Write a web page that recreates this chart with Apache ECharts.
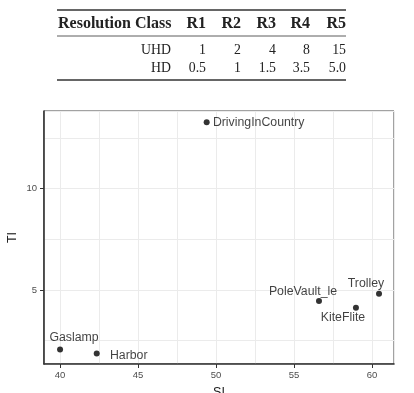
<!DOCTYPE html>
<html>
<head>
<meta charset="utf-8">
<script src="https://cdn.jsdelivr.net/npm/echarts@6/dist/echarts.min.js"></script>
<style>
html,body{margin:0;padding:0;background:#fff;}
#c{width:414px;height:393px;}
</style>
</head>
<body>
<div id="c"></div>
<script>
// Table data
var tableHeader = ["Resolution Class", "R1", "R2", "R3", "R4", "R5"];
var uhdRow = ["UHD", "1", "2", "4", "8", "15"];
var hdRow = ["HD", "0.5", "1", "1.5", "3.5", "5.0"];

// Scatter data
var names = ["DrivingInCountry", "Gaslamp", "Harbor", "PoleVault_le", "KiteFlite", "Trolley"];
var siValues = [49.4, 40.0, 42.35, 56.6, 58.97, 60.45];
var tiValues = [13.28, 2.07, 1.87, 4.46, 4.13, 4.82];

// label offsets (styling, px)
var labelOffsets = [[52, 0], [14, -12], [32, 2], [-16, -9], [-13, 10], [-13, -10]];

var colRight = [171, 206, 241, 276, 310, 346];
var rowY = [24, 50, 68];
var serif = '"Liberation Serif", "DejaVu Serif", serif';

var graphics = [];
function rule(y, w) {
  graphics.push({type: 'line', shape: {x1: 57, y1: y, x2: 346, y2: y}, style: {stroke: '#333', lineWidth: w}});
}
rule(10, 1.3); rule(36, 0.8); rule(80, 1.3);
[tableHeader, uhdRow, hdRow].forEach(function (row, ri) {
  row.forEach(function (t, ci) {
    graphics.push({
      type: 'text',
      x: (ri === 0 && ci === 0) ? 58 : colRight[ci],
      y: rowY[ri],
      style: {
        text: t,
        fill: '#222',
        font: (ri === 0 ? 'bold 16px ' : '13.8px ') + serif,
        textAlign: (ri === 0 && ci === 0) ? 'left' : 'right',
        textVerticalAlign: 'middle'
      }
    });
  });
});

var pts = names.map(function (n, i) {
  return {name: n, value: [siValues[i], tiValues[i]]};
});

var chart = echarts.init(document.getElementById('c'));
var sans = '"Liberation Sans", Arial, sans-serif';
chart.setOption({
  animation: false,
  grid: {left: 44, right: 20, top: 111, bottom: 29, outerBoundsMode: 'none', containLabel: false,
         show: true, borderColor: '#444', borderWidth: 1},
  xAxis: {
    type: 'value',
    min: 38.97, max: 61.41,
    splitNumber: 5,
    name: 'SI',
    nameLocation: 'middle',
    nameGap: 22,
    nameMoveOverlap: false,
    nameTextStyle: {color: '#222', fontSize: 12.5, fontFamily: sans},
    axisLine: {show: true, onZero: false, lineStyle: {color: '#333', width: 1.6}},
    axisTick: {show: true, length: 4, lineStyle: {color: '#333'}},
    axisLabel: {color: '#4d4d4d', fontSize: 9.5, fontFamily: sans, margin: 6, showMinLabel: false, showMaxLabel: false},
    splitLine: {show: true, lineStyle: {color: '#ebebeb', width: 1}},
    minorTick: {show: false, splitNumber: 2},
    minorSplitLine: {show: true, lineStyle: {color: '#ebebeb', width: 1}}
  },
  yAxis: {
    type: 'value',
    min: 1.35, max: 13.83,
    splitNumber: 3,
    name: 'TI',
    nameLocation: 'middle',
    nameGap: 25,
    nameMoveOverlap: false,
    nameTextStyle: {color: '#222', fontSize: 12.5, fontFamily: sans},
    axisLine: {show: true, onZero: false, lineStyle: {color: '#333', width: 1.6}},
    axisTick: {show: true, length: 4, lineStyle: {color: '#333'}},
    axisLabel: {color: '#4d4d4d', fontSize: 9.5, fontFamily: sans, margin: 7, showMinLabel: false, showMaxLabel: false},
    splitLine: {show: true, lineStyle: {color: '#ebebeb', width: 1}},
    minorTick: {show: false, splitNumber: 2},
    minorSplitLine: {show: true, lineStyle: {color: '#ebebeb', width: 1}}
  },
  series: [{
    type: 'scatter',
    data: pts,
    symbolSize: 6,
    itemStyle: {color: '#000'},
    label: {
      show: true,
      position: 'inside',
      formatter: '{b}',
      color: '#111',
      fontSize: 12.3,
      fontFamily: sans,
      align: 'center',
      verticalAlign: 'middle'
    },
    labelLayout: function (p) {
      var o = labelOffsets[p.dataIndex];
      return {dx: o[0], dy: o[1]};
    },
    emphasis: {disabled: true}
  }],
  graphic: graphics
});
</script>
</body>
</html>
